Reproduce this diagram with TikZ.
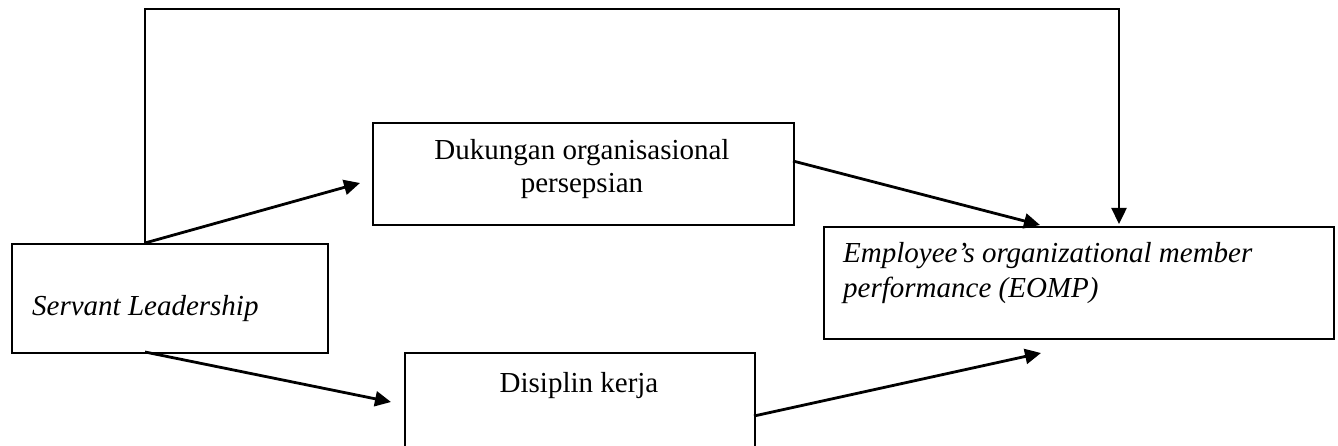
\documentclass[tikz,border=0pt]{standalone}
\usepackage{fontspec}
\setmainfont{Liberation Serif}
\usetikzlibrary{arrows.meta}
\begin{document}
\begin{tikzpicture}[x=1pt,y=-1pt,
  box/.style={draw,line width=2pt,rectangle,inner sep=0pt,anchor=north west},
  lbl/.style={inner sep=0pt,font=\fontsize{29}{34}\selectfont},
  conn/.style={line width=2.8pt,-{Triangle[length=16pt,width=15pt]}},
  loop/.style={line width=2.4pt,-{Triangle[length=16pt,width=15pt]}}]
\useasboundingbox (0,0) rectangle (1338,446);
\clip (0,0) rectangle (1338,446);
% boxes
\node[box,minimum width=316pt,minimum height=109pt] (sl) at (11,243) {};
\node[box,minimum width=421pt,minimum height=102pt] (dk) at (372,122) {};
\node[box,minimum width=510pt,minimum height=112pt] (eo) at (823,226) {};
\node[box,minimum width=350pt,minimum height=130pt] (dj) at (404,352) {};
% texts
\node[lbl,anchor=base west] (slt) at (32,315) {\itshape Servant Leadership};
\node[lbl,anchor=base] (dkt1) at (582,160) {Dukungan organisasional};
\node[lbl,anchor=base] (dkt2) at (582,193) {persepsian};
\node[lbl,anchor=base west] (eot1) at (843,263) {\itshape Employee’s organizational member};
\node[lbl,anchor=base west] (eot2) at (843,298) {\itshape performance (EOMP)};
\node[lbl,anchor=base] (djt) at (579,392) {Disiplin kerja};
% connector coordinates
\coordinate (slTop) at (145,243);
\coordinate (slBot) at (145,352);
\coordinate (topL) at (145,9);
\coordinate (topR) at (1119,9);
\coordinate (eoTop) at (1119,224);
\coordinate (dkIn) at (360,183);
\coordinate (djIn) at (391,402);
\coordinate (dkOut) at (793,161);
\coordinate (djOut) at (754,416);
\coordinate (eoInA) at (1040,225);
\coordinate (eoInB) at (1041,353);
% connectors
\draw[loop] (slTop) -- (topL) -- (topR) -- (eoTop);
\draw[conn] (slTop) -- (dkIn);
\draw[conn] (slBot) -- (djIn);
\draw[conn] (dkOut) -- (eoInA);
\draw[conn] (djOut) -- (eoInB);
\end{tikzpicture}
\end{document}
